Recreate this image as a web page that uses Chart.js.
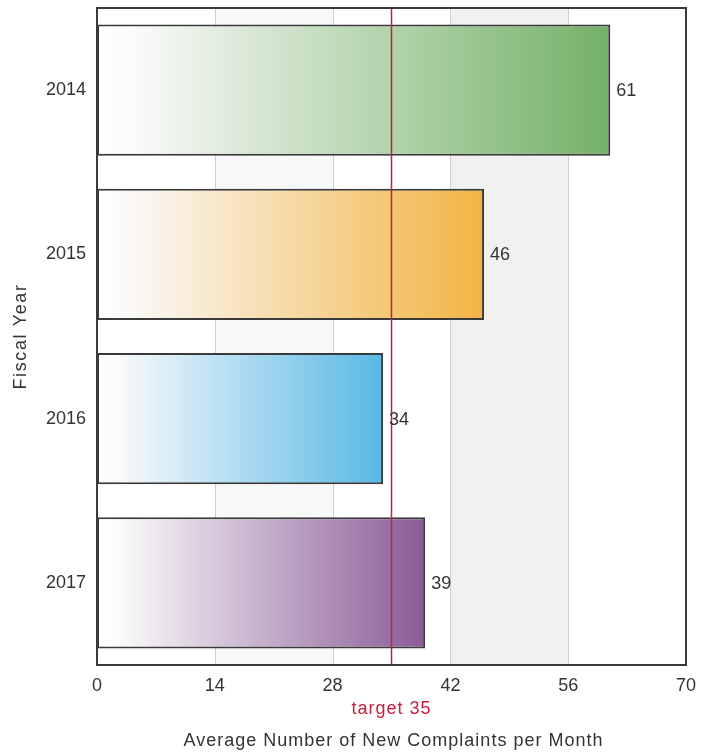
<!DOCTYPE html>
<html><head><meta charset="utf-8">
<script src="https://cdn.jsdelivr.net/npm/chart.js@4/dist/chart.umd.min.js"></script>
<style>html,body{margin:0;padding:0;background:#fff}#wrap{width:715px;height:753px}</style>
</head><body><div id="wrap"><canvas id="c" width="715" height="753"></canvas></div>
<script>
const categories = ['2014', '2015', '2016', '2017'];
const values = [61, 46, 34, 39];
const barColors = ['#74b167', '#f2b443', '#58b8e6', '#8a5c97'];
const xTicks = [0, 14, 28, 42, 56, 70];
const targetValue = 35;
const targetLabel = 'target 35';
const xTitle = 'Average Number of New Complaints per Month';
const yTitle = 'Fiscal Year';

const FONT = '"Liberation Sans", Arial, sans-serif';

function grad(ctx) {
  const chart = ctx.chart;
  const i = ctx.dataIndex;
  if (!chart.chartArea) return barColors[i];
  const xs = chart.scales.x;
  const x0 = xs.getPixelForValue(0);
  const x1 = xs.getPixelForValue(values[i]);
  const g = chart.ctx.createLinearGradient(x0, 0, x1, 0);
  g.addColorStop(0, '#ffffff');
  g.addColorStop(0.07, '#fafafa');
  g.addColorStop(1, barColors[i]);
  return g;
}

const deco = {
  id: 'deco',
  beforeDatasetsDraw(chart) {
    const {ctx, chartArea: a, scales: {x}} = chart;
    ctx.save();
    ctx.fillStyle = '#f1f1f1';
    ctx.fillRect(x.getPixelForValue(42), a.top, x.getPixelForValue(56) - x.getPixelForValue(42), a.bottom - a.top);
    ctx.fillStyle = '#f8f8f8';
    ctx.fillRect(x.getPixelForValue(14), a.top, x.getPixelForValue(28) - x.getPixelForValue(14), a.bottom - a.top);
    ctx.strokeStyle = '#cfcfcf';
    ctx.lineWidth = 1;
    [14, 28, 42, 56].forEach(v => {
      const px = Math.round(x.getPixelForValue(v)) + 0.5;
      ctx.beginPath(); ctx.moveTo(px, a.top); ctx.lineTo(px, a.bottom); ctx.stroke();
    });
    ctx.restore();
  },
  afterDatasetsDraw(chart) {
    const {ctx, chartArea: a, scales: {x}} = chart;
    ctx.save();
    const tx = x.getPixelForValue(targetValue);
    ctx.strokeStyle = '#c3203f';
    ctx.lineWidth = 1.5;
    ctx.beginPath(); ctx.moveTo(tx, a.top); ctx.lineTo(tx, a.bottom); ctx.stroke();
    ctx.strokeStyle = '#3a3a3a';
    ctx.lineWidth = 2;
    ctx.strokeRect(a.left, a.top, a.right - a.left, a.bottom - a.top);
    const meta = chart.getDatasetMeta(0);
    ctx.fillStyle = '#333';
    ctx.font = '18px ' + FONT;
    ctx.textAlign = 'left';
    ctx.textBaseline = 'middle';
    meta.data.forEach((el, i) => {
      ctx.fillText(String(values[i]), el.x + 6, el.y + 1);
    });
    ctx.letterSpacing = '1px';
    ctx.fillStyle = '#c3203f';
    ctx.font = '18px ' + FONT;
    ctx.textAlign = 'center';
    ctx.fillText(targetLabel, tx, 709);
    ctx.fillStyle = '#333';
    ctx.font = '18px ' + FONT;
    ctx.fillText(xTitle, (a.left + a.right) / 2 + 2, 741);
    ctx.letterSpacing = '1.6px';
    ctx.translate(21, (a.top + a.bottom) / 2);
    ctx.rotate(-Math.PI / 2);
    ctx.fillText(yTitle, 0, 0);
    ctx.restore();
  }
};

new Chart(document.getElementById('c'), {
  type: 'bar',
  data: {
    labels: categories,
    datasets: [{
      data: values,
      backgroundColor: grad,
      borderColor: '#3a3a3a',
      borderWidth: 2,
      borderSkipped: false,
      barPercentage: 0.8,
      categoryPercentage: 1.0
    }]
  },
  options: {
    indexAxis: 'y',
    responsive: false,
    animation: false,
    devicePixelRatio: 1,
    layout: { padding: { top: 8, right: 29, left: 0, bottom: 0 } },
    plugins: { legend: { display: false }, tooltip: { enabled: false } },
    scales: {
      x: {
        min: 0, max: 70,
        afterBuildTicks(s) { s.ticks = xTicks.map(v => ({ value: v })); },
        afterFit(s) { s.height = 88; s.paddingLeft = 0; s.paddingRight = 0; },
        grid: { display: false, drawTicks: false },
        border: { display: false },
        ticks: { padding: 10, color: '#333', font: { family: FONT, size: 18 } }
      },
      y: {
        afterFit(s) { s.width = 97; s.paddingTop = 0; s.paddingBottom = 0; },
        grid: { display: false, drawTicks: false },
        border: { display: false },
        ticks: { padding: 11, color: '#333', font: { family: FONT, size: 18 } }
      }
    }
  },
  plugins: [deco]
});
</script></body></html>
